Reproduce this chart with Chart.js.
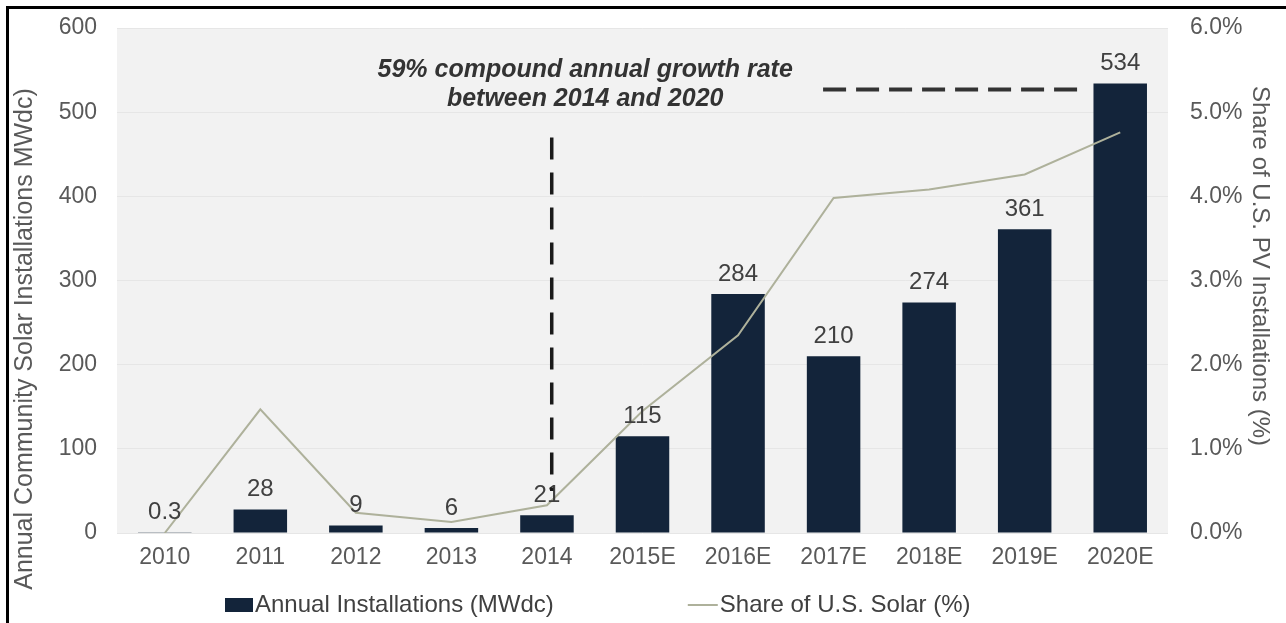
<!DOCTYPE html>
<html>
<head>
<meta charset="utf-8">
<script src="https://cdn.jsdelivr.net/npm/chart.js@4.4.1/dist/chart.umd.min.js"></script>
<style>
  html, body { margin: 0; padding: 0; background: #ffffff; }
  #wrap { position: relative; width: 1286px; height: 623px; overflow: hidden; }
  #frame { position: absolute; left: 6px; top: 6px; width: 1300px; height: 700px;
           border-top: 3px solid #000; border-left: 3px solid #000; pointer-events: none; }
  canvas { position: absolute; left: 0; top: 0; }
</style>
</head>
<body>
<div id="wrap">
  <canvas id="c" width="1286" height="623"></canvas>
  <div id="frame"></div>
</div>
<script>
// ---- data ----
const categories = ['2010', '2011', '2012', '2013', '2014', '2015E', '2016E', '2017E', '2018E', '2019E', '2020E'];
const installations = [0.3, 28, 9, 6, 21, 115, 284, 210, 274, 361, 534];   // MWdc
const sharePct = [0.0, 1.47, 0.24, 0.13, 0.33, 1.45, 2.35, 3.98, 4.08, 4.26, 4.76]; // % of U.S. PV
const leftTicks = [0, 100, 200, 300, 400, 500, 600];
const rightTicks = [0, 1, 2, 3, 4, 5, 6];
const seriesNames = ['Annual Installations (MWdc)', 'Share of U.S. Solar (%)'];
const axisTitles = ['Annual Community Solar Installations MWdc)', 'Share of U.S. PV Installations (%)'];
const noteLines = ['59% compound annual growth rate', 'between 2014 and 2020'];

// ---- styling ----
const BAR = '#13243a';
const LINE = '#aeb19b';
const TICK = '#595959';
const FONT = "'Liberation Sans', Arial, sans-serif";

const plotBg = {
  id: 'plotBg',
  beforeDraw(chart) {
    const {ctx, chartArea: a} = chart;
    ctx.save();
    ctx.fillStyle = '#f2f2f2';
    ctx.fillRect(a.left, a.top, a.right - a.left, a.bottom - a.top);
    ctx.restore();
  }
};

const axisTitlePlugin = {
  id: 'axisTitlePlugin',
  afterDraw(chart) {
    const {ctx} = chart;
    ctx.save();
    ctx.fillStyle = TICK;
    ctx.textAlign = 'center';
    ctx.textBaseline = 'middle';
    // left title, reading bottom to top
    ctx.save();
    ctx.font = '25px ' + FONT;
    ctx.translate(25, 339);
    ctx.rotate(-Math.PI / 2);
    ctx.fillText(axisTitles[0], 0, 0);
    ctx.restore();
    // right title, reading top to bottom
    ctx.save();
    ctx.font = '24px ' + FONT;
    ctx.translate(1260, 266);
    ctx.rotate(Math.PI / 2);
    ctx.fillText(axisTitles[1], 0, 0);
    ctx.restore();
    ctx.restore();
  }
};

const overlays = {
  id: 'overlays',
  afterDatasetsDraw(chart) {
    const {ctx, scales} = chart;
    const x = scales.x, y = scales.y;
    ctx.save();
    // data labels above bars
    const meta = chart.getDatasetMeta(0);
    ctx.font = '24px ' + FONT;
    ctx.fillStyle = '#404040';
    ctx.textAlign = 'center';
    ctx.textBaseline = 'middle';
    meta.data.forEach((el, i) => {
      ctx.fillText(String(installations[i]), el.x, el.y - 20);
    });
    // vertical dashed marker at 2014
    ctx.strokeStyle = '#1a1a1a';
    ctx.lineWidth = 3.5;
    ctx.setLineDash([22, 13]);
    ctx.beginPath();
    const vx = x.getPixelForValue(4.05);
    ctx.moveTo(vx, y.getPixelForValue(470));
    ctx.lineTo(vx, y.getPixelForValue(50));
    ctx.stroke();
    // horizontal dashed line toward 2020 bar
    ctx.strokeStyle = '#333333';
    ctx.lineWidth = 4;
    ctx.setLineDash([23, 10]);
    ctx.beginPath();
    const hy = y.getPixelForValue(527);
    ctx.moveTo(x.getPixelForValue(6.89), hy);
    ctx.lineTo(x.getPixelForValue(9.58), hy);
    ctx.stroke();
    ctx.setLineDash([]);
    // annotation text
    ctx.font = 'italic bold 25px ' + FONT;
    ctx.fillStyle = '#333333';
    ctx.textAlign = 'center';
    const tx = x.getPixelForValue(4.4);
    ctx.fillText(noteLines[0], tx, y.getPixelForValue(550));
    ctx.fillText(noteLines[1], tx, y.getPixelForValue(515));
    ctx.restore();
  }
};

const bottomLegend = {
  id: 'bottomLegend',
  afterDraw(chart) {
    const {ctx} = chart;
    const ds = chart.data.datasets;
    ctx.save();
    ctx.font = '24px ' + FONT;
    ctx.textBaseline = 'middle';
    ctx.textAlign = 'left';
    const yMid = 605;
    let xPos = 225;
    // bar item
    ctx.fillStyle = ds[0].backgroundColor;
    ctx.fillRect(xPos, yMid - 7, 28, 14);
    ctx.fillStyle = '#404040';
    ctx.fillText(ds[0].label, xPos + 30, yMid);
    xPos = xPos + 30 + ctx.measureText(ds[0].label).width + 134;
    // line item
    ctx.strokeStyle = ds[1].borderColor;
    ctx.lineWidth = 2;
    ctx.beginPath();
    ctx.moveTo(xPos, yMid);
    ctx.lineTo(xPos + 30, yMid);
    ctx.stroke();
    ctx.fillText(ds[1].label, xPos + 32, yMid);
    ctx.restore();
  }
};

function fixV(s, w) { s.width = w; s.paddingTop = 0; s.paddingBottom = 0; }

new Chart(document.getElementById('c'), {
  type: 'bar',
  data: {
    labels: categories,
    datasets: [
      {
        label: seriesNames[0],
        data: installations,
        backgroundColor: BAR,
        yAxisID: 'y',
        order: 2,
        barPercentage: 0.56,
        categoryPercentage: 1.0
      },
      {
        type: 'line',
        label: seriesNames[1],
        data: sharePct,
        borderColor: LINE,
        backgroundColor: LINE,
        borderWidth: 2,
        pointRadius: 0,
        tension: 0,
        yAxisID: 'y1',
        order: 1
      }
    ]
  },
  options: {
    responsive: false,
    devicePixelRatio: 1,
    animation: false,
    layout: { padding: { top: 28, left: 0, right: 0, bottom: 0 } },
    plugins: { legend: { display: false }, tooltip: { enabled: false } },
    scales: {
      x: {
        grid: { display: false, drawTicks: false },
        border: { display: false },
        ticks: { color: TICK, font: { family: FONT, size: 23 }, padding: 11, maxRotation: 0, autoSkip: false },
        afterFit(s) { s.height = 90; s.paddingLeft = 0; s.paddingRight = 0; }
      },
      y: {
        position: 'left',
        min: leftTicks[0],
        max: leftTicks[leftTicks.length - 1],
        afterBuildTicks(s) { s.ticks = leftTicks.map(v => ({value: v})); },
        grid: { color: '#e6e6e6', lineWidth: 1, drawTicks: false },
        border: { display: false },
        ticks: { color: TICK, font: { family: FONT, size: 23 }, padding: 20 },
        afterFit(s) { fixV(s, 117); }
      },
      y1: {
        position: 'right',
        min: rightTicks[0],
        max: rightTicks[rightTicks.length - 1],
        afterBuildTicks(s) { s.ticks = rightTicks.map(v => ({value: v})); },
        grid: { display: false, drawTicks: false },
        border: { display: false },
        ticks: { color: TICK, font: { family: FONT, size: 23 }, padding: 22, callback: v => Number(v).toFixed(1) + '%' },
        afterFit(s) { fixV(s, 118); }
      }
    }
  },
  plugins: [plotBg, overlays, axisTitlePlugin, bottomLegend]
});
</script>
</body>
</html>
